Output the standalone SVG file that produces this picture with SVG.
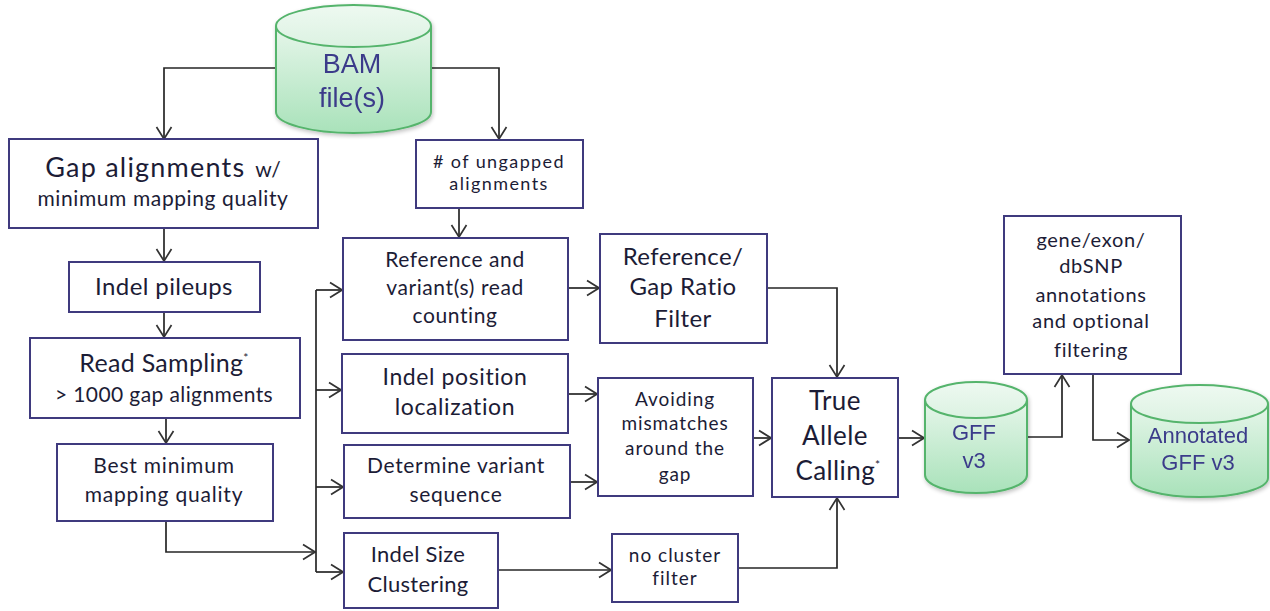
<svg xmlns="http://www.w3.org/2000/svg" width="1270" height="611" viewBox="0 0 1270 611">
  <defs>
    <linearGradient id="cylBody" x1="0" y1="0" x2="0" y2="1">
      <stop offset="0" stop-color="#e6f6ea"/>
      <stop offset="1" stop-color="#a9e2ba"/>
    </linearGradient>
    <linearGradient id="cylTop" x1="0" y1="0" x2="0" y2="1">
      <stop offset="0" stop-color="#eef9f1"/>
      <stop offset="1" stop-color="#dcf2e2"/>
    </linearGradient>
    <marker id="arrow" viewBox="0 0 14 18" refX="13" refY="9" markerWidth="14" markerHeight="18" markerUnits="userSpaceOnUse" orient="auto">
      <path d="M1,1.5 L13,9 L1,16.5" fill="none" stroke="#333" stroke-width="1.7"/>
    </marker>
    <filter id="shadow" x="-10%" y="-10%" width="130%" height="130%">
      <feGaussianBlur in="SourceAlpha" stdDeviation="2"/>
      <feOffset dx="1" dy="2"/>
      <feComponentTransfer><feFuncA type="linear" slope="0.25"/></feComponentTransfer>
      <feMerge><feMergeNode/><feMergeNode in="SourceGraphic"/></feMerge>
    </filter>
  </defs>
  <style>
    .box { fill: #ffffff; stroke: #3f3a7e; stroke-width: 2; }
    .cyl { fill: url(#cylBody); stroke: #55b46c; stroke-width: 2; }
    .cyltop { fill: url(#cylTop); stroke: #55b46c; stroke-width: 2; }
    .t { font-family: Lato, "Open Sans", sans-serif; fill: #1c1c36; text-anchor: middle; }
    .ct { font-family: "Liberation Sans", Arial, sans-serif; fill: #3b3b8a; text-anchor: middle; }
    .edge { fill: none; stroke: #262626; stroke-width: 1.7; }
  </style>
  <rect width="1270" height="611" fill="#ffffff"/>

  <!-- connectors -->
  <g id="connectors">
    <path class="edge" d="M276,68 H164 V139" marker-end="url(#arrow)"/>
    <path class="edge" d="M431,68 H499 V139" marker-end="url(#arrow)"/>
    <path class="edge" d="M459,208 V237" marker-end="url(#arrow)"/>
    <path class="edge" d="M164,228 V261" marker-end="url(#arrow)"/>
    <path class="edge" d="M164,312 V337" marker-end="url(#arrow)"/>
    <path class="edge" d="M166,418 V443" marker-end="url(#arrow)"/>
    <path class="edge" d="M166,521 V552 H315" marker-end="url(#arrow)"/>
    <path class="edge" d="M316,290 V572"/>
    <path class="edge" d="M316,290 H342" marker-end="url(#arrow)"/>
    <path class="edge" d="M316,390 H341" marker-end="url(#arrow)"/>
    <path class="edge" d="M316,487 H343" marker-end="url(#arrow)"/>
    <path class="edge" d="M316,572 H343" marker-end="url(#arrow)"/>
    <path class="edge" d="M568,288 H599" marker-end="url(#arrow)"/>
    <path class="edge" d="M568,394 H597" marker-end="url(#arrow)"/>
    <path class="edge" d="M570,482 H597" marker-end="url(#arrow)"/>
    <path class="edge" d="M498,570 H611" marker-end="url(#arrow)"/>
    <path class="edge" d="M767,288 H837 V377" marker-end="url(#arrow)"/>
    <path class="edge" d="M738,568 H837 V498" marker-end="url(#arrow)"/>
    <path class="edge" d="M753,438 H771" marker-end="url(#arrow)"/>
    <path class="edge" d="M898,438 H924" marker-end="url(#arrow)"/>
    <path class="edge" d="M1027,437 H1062 V375" marker-end="url(#arrow)"/>
    <path class="edge" d="M1093,374 V440 H1129" marker-end="url(#arrow)"/>
  </g>

  <!-- BAM input store -->
  <g id="bam" filter="url(#shadow)">
    <path class="cyl" d="M276,26 V112 A77.5,21 0 0 0 431,112 V26"/>
    <ellipse class="cyltop" cx="353.5" cy="26" rx="77.5" ry="21"/>
    <text class="ct" x="352" y="73" font-size="27">BAM</text>
    <text class="ct" x="352" y="107" font-size="27">file(s)</text>
  </g>

  <g id="gap-alignments">
    <rect class="box" x="9" y="139" width="309" height="89"/>
    <text class="t" x="163" y="177"><tspan font-size="27" letter-spacing="1.2">Gap alignments</tspan><tspan font-size="21" dx="10">w/</tspan></text>
    <text class="t" x="163" y="206" font-size="21" letter-spacing="0.6">minimum mapping quality</text>
  </g>

  <g id="ungapped">
    <rect class="box" x="416" y="140" width="167" height="68"/>
    <text class="t" x="499" y="168" font-size="18" letter-spacing="1.4"># of ungapped</text>
    <text class="t" x="499" y="190" font-size="18" letter-spacing="1.4">alignments</text>
  </g>

  <g id="indel-pileups">
    <rect class="box" x="69" y="262" width="191" height="50"/>
    <text class="t" x="164" y="295" font-size="24" letter-spacing="0.4">Indel pileups</text>
  </g>

  <g id="read-sampling">
    <rect class="box" x="30" y="338" width="270" height="80"/>
    <text class="t" x="164" y="372" font-size="25" letter-spacing="0.3">Read Sampling<tspan font-size="12" dy="-10">*</tspan></text>
    <text class="t" x="164" y="402" font-size="21" letter-spacing="0.4">&gt; 1000 gap alignments</text>
  </g>

  <g id="best-mapq">
    <rect class="box" x="57" y="444" width="216" height="77"/>
    <text class="t" x="164" y="473" font-size="21" letter-spacing="0.8">Best minimum</text>
    <text class="t" x="164" y="502" font-size="21" letter-spacing="0.8">mapping quality</text>
  </g>

  <g id="ref-variant-count">
    <rect class="box" x="343" y="238" width="225" height="102"/>
    <text class="t" x="455" y="267" font-size="21" letter-spacing="0.6">Reference and</text>
    <text class="t" x="455" y="295" font-size="21" letter-spacing="0.6">variant(s) read</text>
    <text class="t" x="455" y="323" font-size="21" letter-spacing="0.6">counting</text>
  </g>

  <g id="ratio-filter">
    <rect class="box" x="600" y="234" width="167" height="109"/>
    <text class="t" x="683" y="265" font-size="24" letter-spacing="0.4">Reference/</text>
    <text class="t" x="683" y="295" font-size="24" letter-spacing="0.4">Gap Ratio</text>
    <text class="t" x="683" y="327" font-size="24" letter-spacing="0.4">Filter</text>
  </g>

  <g id="position-localization">
    <rect class="box" x="342" y="354" width="226" height="79"/>
    <text class="t" x="455" y="385" font-size="23" letter-spacing="0.6">Indel position</text>
    <text class="t" x="455" y="415" font-size="23" letter-spacing="0.6">localization</text>
  </g>

  <g id="variant-sequence">
    <rect class="box" x="344" y="445" width="226" height="73"/>
    <text class="t" x="456" y="473" font-size="21" letter-spacing="0.7">Determine variant</text>
    <text class="t" x="456" y="502" font-size="21" letter-spacing="0.7">sequence</text>
  </g>

  <g id="mismatch-filter">
    <rect class="box" x="598" y="378" width="155" height="118"/>
    <text class="t" x="675" y="406" font-size="19" letter-spacing="0.9">Avoiding</text>
    <text class="t" x="675" y="430" font-size="19" letter-spacing="0.9">mismatches</text>
    <text class="t" x="675" y="455" font-size="19" letter-spacing="0.9">around the</text>
    <text class="t" x="675" y="481" font-size="19" letter-spacing="0.9">gap</text>
  </g>

  <g id="size-clustering">
    <rect class="box" x="344" y="533" width="154" height="75"/>
    <text class="t" x="418" y="562" font-size="22" letter-spacing="0.3">Indel Size</text>
    <text class="t" x="418" y="592" font-size="22" letter-spacing="0.3">Clustering</text>
  </g>

  <g id="cluster-filter">
    <rect class="box" x="612" y="534" width="126" height="68"/>
    <text class="t" x="675" y="562" font-size="19" letter-spacing="1">no cluster</text>
    <text class="t" x="675" y="585" font-size="19" letter-spacing="1">filter</text>
  </g>

  <g id="allele-calling">
    <rect class="box" x="772" y="378" width="126" height="119"/>
    <text class="t" x="835" y="410" font-size="26" letter-spacing="0.4">True</text>
    <text class="t" x="835" y="445" font-size="26" letter-spacing="0.4">Allele</text>
    <text class="t" x="838" y="480" font-size="26" letter-spacing="0.4">Calling<tspan font-size="12" dy="-11">*</tspan></text>
  </g>

  <g id="gff" filter="url(#shadow)">
    <path class="cyl" d="M925,400 V475 A51,18 0 0 0 1027,475 V400"/>
    <ellipse class="cyltop" cx="976" cy="400" rx="51" ry="18"/>
    <text class="ct" x="974" y="440" font-size="22">GFF</text>
    <text class="ct" x="974" y="468" font-size="22">v3</text>
  </g>

  <g id="annotation">
    <rect class="box" x="1004" y="216" width="177" height="158"/>
    <text class="t" x="1091" y="247" font-size="20" letter-spacing="0.7">gene/exon/</text>
    <text class="t" x="1091" y="273" font-size="20" letter-spacing="0.7">dbSNP</text>
    <text class="t" x="1091" y="302" font-size="20" letter-spacing="0.7">annotations</text>
    <text class="t" x="1091" y="328" font-size="20" letter-spacing="0.7">and optional</text>
    <text class="t" x="1091" y="357" font-size="20" letter-spacing="0.7">filtering</text>
  </g>

  <g id="annotated-gff" filter="url(#shadow)">
    <path class="cyl" d="M1131,404 V478 A68.5,19 0 0 0 1268,478 V404"/>
    <ellipse class="cyltop" cx="1199.5" cy="404" rx="68.5" ry="19"/>
    <text class="ct" x="1198" y="443" font-size="22">Annotated</text>
    <text class="ct" x="1198" y="470" font-size="22">GFF v3</text>
  </g>
</svg>
